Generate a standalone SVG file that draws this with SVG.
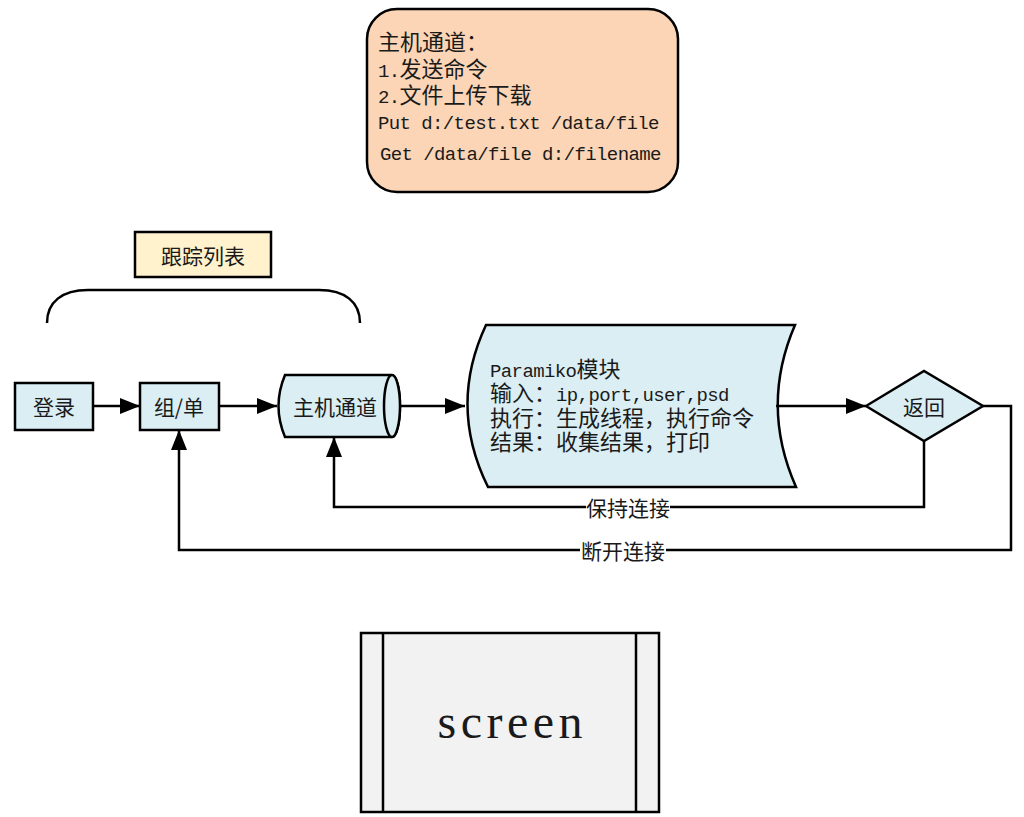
<svg xmlns="http://www.w3.org/2000/svg" width="1024" height="817" viewBox="0 0 1024 817">
<style>
.f{font-family:"Liberation Mono","Noto Sans CJK SC",monospace;fill:#1a1a1a;font-size:19px;letter-spacing:-0.6px}
.c{font-size:22px;letter-spacing:0}
.lbl{font-family:"Noto Sans CJK SC",sans-serif;fill:#1a1a1a;font-size:21px;text-anchor:middle;dominant-baseline:central}
.s{stroke:#000;stroke-width:2.5}
.b{fill:#DAEEF3}
.ln{fill:none;stroke:#000;stroke-width:2.5}
</style>
<defs>
<marker id="ah" viewBox="0 0 20 16" refX="20" refY="8" markerWidth="20" markerHeight="16" markerUnits="userSpaceOnUse" orient="auto">
<path d="M0,0 L20,8 L0,16 Z" fill="#000"/>
</marker>
</defs>
<rect width="1024" height="817" fill="#fff"/>

<g id="channel-note">
<rect class="s" x="367" y="9" width="311" height="183" rx="30" ry="30" fill="#FBD5B5"/>
<text class="f" x="378" y="50"><tspan class="c">主机通道：</tspan></text>
<text class="f" x="378" y="77">1.<tspan class="c">发送命令</tspan></text>
<text class="f" x="378" y="103">2.<tspan class="c">文件上传下载</tspan></text>
<text class="f" x="378" y="129">Put d:/test.txt /data/file</text>
<text class="f" x="380" y="160">Get /data/file d:/filename</text>
</g>

<g id="track-list">
<rect class="s" x="135" y="232" width="136" height="45" fill="#FFF2CC"/>
<text class="lbl" x="203" y="255">跟踪列表</text>
</g>

<g id="brace">
<path class="ln" d="M47,323 C47,302 62,290 88,290 L319,290 C345,290 360,302 360,323"/>
</g>

<g id="login">
<rect class="s b" x="15" y="383" width="78" height="47"/>
<text class="lbl" x="54" y="406">登录</text>
</g>

<g id="group">
<rect class="s b" x="140" y="383" width="79" height="47"/>
<text class="lbl" x="179" y="406">组/单</text>
</g>

<g id="host-channel">
<path class="s b" d="M285,375 L392,375 A8,31 0 0 1 392,437 L285,437 Q272,406 285,375 Z"/>
<ellipse class="s b" cx="392" cy="406" rx="8" ry="31"/>
<text class="lbl" x="335" y="406">主机通道</text>
</g>

<g id="paramiko">
<path class="s b" d="M486,325 L795,325 Q760,406 796,487 L488,487 Q448,406 486,325 Z"/>
<text class="f" x="490" y="377">Paramiko<tspan class="c">模块</tspan></text>
<text class="f" x="490" y="401"><tspan class="c">输入：</tspan>ip,port,user,psd</text>
<text class="f" x="490" y="426"><tspan class="c">执行：生成线程，执行命令</tspan></text>
<text class="f" x="490" y="450"><tspan class="c">结果：收集结果，打印</tspan></text>
</g>

<g id="return">
<path class="s b" d="M866,406 L924,371 L983,406 L924,441 Z"/>
<text class="lbl" x="924" y="406">返回</text>
</g>

<g id="screen">
<rect class="s" x="361" y="633" width="298" height="179" fill="#F2F2F2"/>
<line class="s" x1="383" y1="633" x2="383" y2="812"/>
<line class="s" x1="636" y1="633" x2="636" y2="812"/>
<text x="510" y="738" font-family="Liberation Serif,serif" font-size="48" fill="#1a1a1a" text-anchor="middle" textLength="145" lengthAdjust="spacing">screen</text>
</g>

<g id="connectors">
<line class="ln" x1="93" y1="406" x2="140" y2="406" marker-end="url(#ah)"/>
<line class="ln" x1="219" y1="406" x2="277" y2="406" marker-end="url(#ah)"/>
<line class="ln" x1="400" y1="406" x2="465" y2="406" marker-end="url(#ah)"/>
<line class="ln" x1="776" y1="406" x2="866" y2="406" marker-end="url(#ah)"/>
<polyline class="ln" points="924,441 924,507 334,507 334,437" marker-end="url(#ah)"/>
<polyline class="ln" points="983,406 1011,406 1011,550 179,550 179,430" marker-end="url(#ah)"/>
<rect x="586" y="496" width="84" height="22" fill="#fff"/>
<text class="lbl" x="628" y="507">保持连接</text>
<rect x="580" y="539" width="86" height="22" fill="#fff"/>
<text class="lbl" x="623" y="550">断开连接</text>
</g>
</svg>
